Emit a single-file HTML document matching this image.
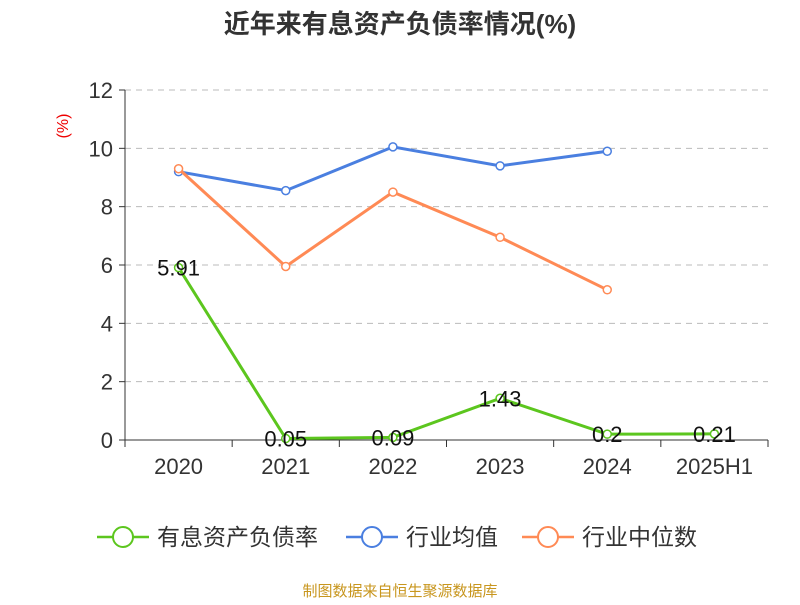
<!DOCTYPE html>
<html><head><meta charset="utf-8"><style>
body{margin:0;background:#fff;font-family:"Liberation Sans","Noto Sans CJK SC",sans-serif;}
</style></head><body>
<svg width="800" height="600" xmlns="http://www.w3.org/2000/svg" style="font-family:'Liberation Sans','Noto Sans CJK SC',sans-serif">
<text x="400" y="33" text-anchor="middle" font-size="26" font-weight="bold" fill="#333">近年来有息资产负债率情况(%)</text>
<text x="68" y="126" text-anchor="middle" font-size="16" fill="#e00" transform="rotate(-90 68 126)">(%)</text>
<g id="grid"></g><g id="axes"></g><g id="series"></g>
<g id="legend" font-size="20" fill="#333"></g>
<text x="400" y="596" text-anchor="middle" font-size="15" fill="#c8961e">制图数据来自恒生聚源数据库</text>
</svg>
<script>
const categories=["2020","2021","2022","2023","2024","2025H1"];
const yTicks=[0,2,4,6,8,10,12];
const debtRatio=[5.91,0.05,0.09,1.43,0.2,0.21];
const debtLabels=["5.91","0.05","0.09","1.43","0.2","0.21"];
const industryAvg=[9.2,8.55,10.05,9.4,9.9];
const industryMedian=[9.3,5.95,8.5,6.95,5.15];
const NS="http://www.w3.org/2000/svg";
const x0=125,x1=768,y0=440,y1=90,yMax=12;
const bw=(x1-x0)/categories.length;
const X=i=>x0+bw*(i+0.5);
const Y=v=>y0-(v/yMax)*(y0-y1);
function mk(tag,attrs,parent,txt){const e=document.createElementNS(NS,tag);for(const k in attrs)e.setAttribute(k,attrs[k]);if(txt!==undefined)e.textContent=txt;document.getElementById(parent).appendChild(e);return e;}
yTicks.forEach(t=>{
 const y=Y(t);
 if(t>0){const g=mk('line',{x1:x0,x2:x1,y1:y,y2:y,stroke:'#bbb','stroke-dasharray':'6,5'},'grid');
 
 }
 const tk=mk('line',{x1:x0-6,x2:x0,y1:y,y2:y,stroke:'#333'},'axes');
 
 
 const l=mk('text',{x:x0-12,y:y+8,'text-anchor':'end','font-size':22,fill:'#333'},'axes',String(t));
 
 
});
let a=mk('line',{x1:x0,x2:x0,y1:y1,y2:y0,stroke:'#333'},'axes');


a=mk('line',{x1:x0,x2:x1,y1:y0,y2:y0,stroke:'#333'},'axes');


for(let i=0;i<=categories.length;i++){const t=mk('line',{x1:x0+bw*i,x2:x0+bw*i,y1:y0,y2:y0+7,stroke:'#333'},'axes');
 
 }
categories.forEach((c,i)=>{const t=mk('text',{x:X(i),y:y0+34,'text-anchor':'middle','font-size':22,fill:'#333'},'axes',c);
 
 });
function series(vals,color,name,labels){
 const p=mk('polyline',{points:vals.map((v,i)=>X(i)+','+Y(v)).join(' '),fill:'none',stroke:color,'stroke-width':3},'series');
 
 
 vals.forEach((v,i)=>{const c=mk('circle',{cx:X(i),cy:Y(v),r:4,fill:'#fff',stroke:color,'stroke-width':1.5},'series');
  
  
  if(labels){const t=mk('text',{x:X(i),y:Y(v)+8,'text-anchor':'middle','font-size':22,fill:'#111'},'series',labels[i]);
  
  }});
}
series(industryAvg,'#4a7fe0','industry-average');
series(industryMedian,'#ff8a55','industry-median');
series(debtRatio,'#5cc61e','debt-ratio',debtLabels);
const leg=[["有息资产负债率","#5cc61e",97],["行业均值","#4a7fe0",346],["行业中位数","#ff8a55",522]];
leg.forEach(([n,c,x])=>{
 const l=mk('line',{x1:x,x2:x+52,y1:537,y2:537,stroke:c,'stroke-width':2.5},'legend');
 
 
 const ci=mk('circle',{cx:x+26,cy:537,r:10,fill:'#fff',stroke:c,'stroke-width':2},'legend');
 
 
 const t=mk('text',{x:x+60,y:545,'font-size':23,fill:'#333'},'legend',n);
 
 
});
</script>
</body></html>
